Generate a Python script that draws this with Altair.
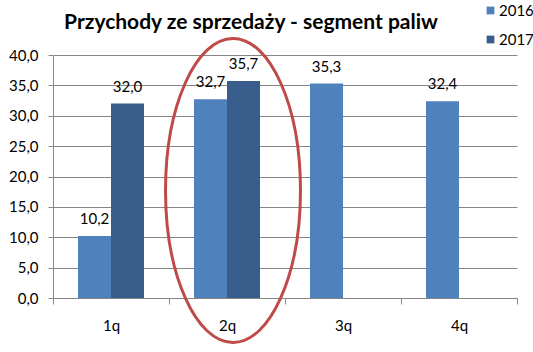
import altair as alt
import pandas as pd

quarters = ["1q", "2q", "3q", "4q"]
years = ["2016", "2017"]
values_2016 = [10.2, 32.7, 35.3, 32.4]
values_2017 = [32.0, 35.7, None, None]
colors = ["#4F81BD", "#385D8A"]
y_ticks = [0, 5, 10, 15, 20, 25, 30, 35, 40]
title_text = "Przychody ze sprzedaży - segment paliw"

# highlight annotation (ellipse around 2q)
highlight_q = ["2q"]
highlight_center = [17.7]

rows = []
for q, v in zip(quarters, values_2016):
    rows.append({"q": q, "year": "2016", "value": v})
for q, v in zip(quarters, values_2017):
    rows.append({"q": q, "year": "2017", "value": v})
df = pd.DataFrame(rows)
df_hl = pd.DataFrame({"q": highlight_q, "c": highlight_center})

FONT = "Lato"
GRID = "#868686"

x_scale = alt.Scale(domain=quarters, paddingInner=0, paddingOuter=0)
x_axis = alt.Axis(
    title=None, labelAngle=0, tickBand="extent", tickSize=6,
    labelPadding=14, domainColor=GRID, tickColor=GRID,
    labelFont=FONT, labelFontSize=15, labelColor="#000000", grid=False,
)
y_scale = alt.Scale(domain=[0, 40], nice=False)
y_axis = alt.Axis(
    title=None, values=y_ticks, tickSize=5, labelPadding=10,
    labelOverlap=False,
    labelExpr="replace(format(datum.value, '.1f'), '.', ',')",
    domainColor=GRID, tickColor=GRID, gridColor=GRID, grid=True,
    labelFont=FONT, labelFontSize=15, labelColor="#000000",
)
xoff_enc = alt.XOffset(
    "year:N", scale=alt.Scale(domain=years, paddingOuter=0.758, paddingInner=0)
)

bars = alt.Chart(df).mark_bar().encode(
    x=alt.X("q:N", sort=quarters, scale=x_scale, axis=x_axis),
    xOffset=xoff_enc,
    y=alt.Y("value:Q", scale=y_scale, axis=y_axis),
    color=alt.Color(
        "year:N",
        scale=alt.Scale(domain=years, range=colors),
        legend=alt.Legend(
            title=None, orient="none", legendX=430, legendY=-52,
            symbolType="square", symbolSize=60, symbolStrokeWidth=0,
            labelFont=FONT, labelFontSize=15, labelColor="#000000",
            rowPadding=13, labelOffset=1, padding=0,
        ),
    ),
)

labels = alt.Chart(df).transform_filter(
    "isValid(datum.value)"
).transform_calculate(
    label="replace(format(datum.value, '.1f'), '.', ',')"
).mark_text(
    baseline="alphabetic", dy=-12, font=FONT, fontSize=15, color="#000000"
).encode(
    x=alt.X("q:N", sort=quarters, scale=x_scale, axis=x_axis),
    xOffset=xoff_enc,
    y=alt.Y("value:Q", scale=y_scale, axis=y_axis),
    text="label:N",
)

k = 0.5523
rx = 0.444
ellipse_path = (
    f"M 0 -1 C {k*rx:.4f} -1 {rx} {-k:.4f} {rx} 0 "
    f"C {rx} {k:.4f} {k*rx:.4f} 1 0 1 "
    f"C {-k*rx:.4f} 1 {-rx} {k:.4f} {-rx} 0 "
    f"C {-rx} {-k:.4f} {-k*rx:.4f} -1 0 -1 Z"
)

ellipse = alt.Chart(df_hl).mark_point(
    shape=ellipse_path, size=92416, filled=False,
    stroke="#BE4B48", strokeWidth=3, opacity=1, xOffset=6, clip=False,
).encode(
    x=alt.X("q:N", sort=quarters, scale=x_scale, axis=x_axis),
    y=alt.Y("c:Q", scale=y_scale, axis=y_axis),
)

chart = alt.layer(bars, labels, ellipse).properties(
    width=464,
    height=243,
    autosize=alt.AutoSizeParams(type="none"),
    padding={"left": 53, "top": 55, "right": 16, "bottom": 54},
    title=alt.Title(
        title_text, anchor="middle", dx=-34, offset=-47, baseline="alphabetic",
        font=FONT, fontSize=21, fontWeight="bold", color="#000000",
    ),
    background="white",
).configure_view(stroke=None)

chart.save("out.html", embed_options={"renderer": "svg", "actions": False})
